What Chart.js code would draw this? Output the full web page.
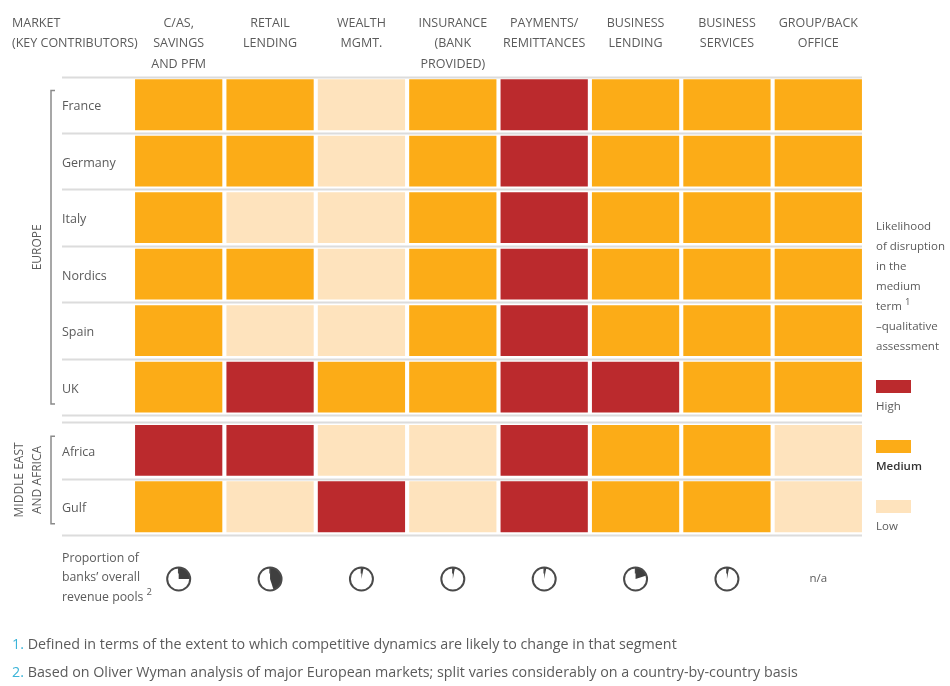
<!DOCTYPE html>
<html>
<head>
<meta charset="utf-8">
<script src="https://cdn.jsdelivr.net/npm/chart.js@4.4.1/dist/chart.umd.min.js"></script>
<style>
  html,body{margin:0;padding:0;background:#fff;}
  #wrap{width:950px;height:686px;position:relative;}
</style>
</head>
<body>
<div id="wrap"><canvas id="c" width="950" height="686"></canvas></div>
<script>
// ---------- DATA ----------
const segments = [
  ["C/AS,", "SAVINGS", "AND PFM"],
  ["RETAIL", "LENDING"],
  ["WEALTH", "MGMT."],
  ["INSURANCE", "(BANK", "PROVIDED)"],
  ["PAYMENTS/", "REMITTANCES"],
  ["BUSINESS", "LENDING"],
  ["BUSINESS", "SERVICES"],
  ["GROUP/BACK", "OFFICE"]
];
const markets = ["France", "Germany", "Italy", "Nordics", "Spain", "UK", "Africa", "Gulf"];
const regions = [["EUROPE"], ["MIDDLE EAST", "AND AFRICA"]];
// likelihood of disruption: 2 = High, 1 = Medium, 0 = Low
const france  = [1, 1, 0, 1, 2, 1, 1, 1];
const germany = [1, 1, 0, 1, 2, 1, 1, 1];
const italy   = [1, 0, 0, 1, 2, 1, 1, 1];
const nordics = [1, 1, 0, 1, 2, 1, 1, 1];
const spain   = [1, 0, 0, 1, 2, 1, 1, 1];
const uk      = [1, 2, 1, 1, 2, 2, 1, 1];
const africa  = [2, 2, 0, 0, 2, 1, 1, 0];
const gulf    = [1, 0, 2, 0, 2, 1, 1, 0];
const levels = [france, germany, italy, nordics, spain, uk, africa, gulf];
const levelNames = ["Low", "Medium", "High"];
// proportion of banks' overall revenue pools (share of pie), null = n/a
const revenueShare = [0.25, 0.45, 0.03, 0.03, 0.03, 0.20, 0.03, null];

// ---------- STYLE ----------
const levelColors = ["#fee3bd", "#fcac17", "#bb2a2d"];
const textCol = "#5b5b5b";
const font = "'Open Sans', 'Noto Sans', sans-serif";
const regionGap = 0.12;
function rowStart(i){ return i + (i >= 6 ? regionGap : 0); }

const datasets = levels.map((row, i) => ({
  label: markets[i],
  data: row.map(v => [rowStart(i) + 0.05, rowStart(i) + 0.95]),
  backgroundColor: row.map(v => levelColors[v]),
  borderWidth: 0,
  grouped: false,
  categoryPercentage: 1,
  barPercentage: 0.955
}));

const decor = {
  id: 'decor',
  beforeDatasetsDraw(chart){
    const ctx = chart.ctx, y = chart.scales.y, x = chart.scales.x;
    ctx.save();
    ctx.strokeStyle = "#dcdcdc";
    ctx.lineWidth = 2;
    const lines = [0,1,2,3,4,5,6, 6+regionGap, 7+regionGap, 8+regionGap];
    lines.forEach(v => {
      const py = Math.round(y.getPixelForValue(v)) + 0.5;
      ctx.beginPath(); ctx.moveTo(62, py); ctx.lineTo(x.right - 2, py); ctx.stroke();
    });
    ctx.restore();
  },
  afterDraw(chart){
    const ctx = chart.ctx, y = chart.scales.y, x = chart.scales.x;
    ctx.save();
    ctx.fillStyle = textCol;
    ctx.textBaseline = "middle";
    // column headers
    ctx.font = "12.5px " + font;
    ctx.textAlign = "center";
    segments.forEach((lines, j) => {
      const cx = x.getPixelForValue(j);
      lines.forEach((t, k) => ctx.fillText(t, cx, 23 + k * 20.5));
    });
    ctx.textAlign = "left";
    ctx.fillText("MARKET", 12, 23);
    ctx.fillText("(KEY CONTRIBUTORS)", 12, 43.5);
    // row labels
    ctx.font = "12.5px " + font;
    markets.forEach((m, i) => {
      ctx.fillText(m, 62, y.getPixelForValue(rowStart(i) + 0.5) + 2);
    });
    // region brackets
    ctx.strokeStyle = "#8a8a8a";
    ctx.lineWidth = 1.5;
    const brackets = [[0.25, 5.8], [6 + regionGap + 0.25, 8 + regionGap - 0.2]];
    brackets.forEach(([a, b]) => {
      const y1 = y.getPixelForValue(a), y2 = y.getPixelForValue(b);
      ctx.beginPath();
      ctx.moveTo(55, y1); ctx.lineTo(51, y1); ctx.lineTo(51, y2); ctx.lineTo(55, y2);
      ctx.stroke();
    });
    ctx.font = "12px " + font;
    ctx.textAlign = "center";
    regions.forEach((parts, k) => {
      const [a, b] = brackets[k];
      const cy = (y.getPixelForValue(a) + y.getPixelForValue(b)) / 2;
      ctx.save();
      ctx.translate(parts.length > 1 ? 29 : 38, cy);
      ctx.rotate(-Math.PI / 2);
      parts.forEach((p, n) => ctx.fillText(p, 0, (n - (parts.length - 1) / 2) * 18));
      ctx.restore();
    });
    // legend
    ctx.textAlign = "left";
    ctx.font = "11.5px " + font;
    const lg = ["Likelihood", "of disruption", "in the", "medium", "term", "\u2013qualitative", "assessment"];
    lg.forEach((t, k) => ctx.fillText(t, 876, 227 + k * 20));
    const tw = ctx.measureText("term").width;
    ctx.font = "9.5px " + font;
    ctx.fillText("1", 876 + tw + 3, 302);
    const legY = [380, 440, 500];
    [2, 1, 0].forEach((lv, k) => {
      ctx.fillStyle = levelColors[lv];
      ctx.fillRect(876, legY[k], 35, 13);
      ctx.fillStyle = lv === 1 ? "#333" : textCol;
      ctx.font = (lv === 1 ? "600 " : "") + "11.5px " + font;
      ctx.fillText(levelNames[lv], 876, legY[k] + 27);
    });
    // revenue pools row
    ctx.fillStyle = textCol;
    ctx.font = "12.3px " + font;
    ["Proportion of", "banks\u2019 overall", "revenue pools"].forEach((t, k) => ctx.fillText(t, 62, 558 + k * 19.5));
    const rw = ctx.measureText("revenue pools").width;
    ctx.font = "9.5px " + font;
    ctx.fillText("2", 62 + rw + 3, 592);
    const pieY = 579, r = 11.5;
    revenueShare.forEach((s, j) => {
      const cx = x.getPixelForValue(j);
      if (s === null) {
        ctx.fillStyle = textCol; ctx.font = "11.5px " + font; ctx.textAlign = "center";
        ctx.fillText("n/a", cx, pieY);
        ctx.textAlign = "left";
        return;
      }
      const start = -Math.PI / 2, end = start + s * 2 * Math.PI;
      ctx.fillStyle = "#3f3f3f";
      ctx.beginPath(); ctx.moveTo(cx, pieY); ctx.arc(cx, pieY, r, start, end); ctx.closePath(); ctx.fill();
      ctx.strokeStyle = "#4a4a4a"; ctx.lineWidth = 2;
      ctx.beginPath(); ctx.arc(cx, pieY, r, 0, Math.PI * 2); ctx.stroke();
      ctx.lineWidth = 1.5;
      ctx.beginPath(); ctx.moveTo(cx, pieY - r); ctx.lineTo(cx, pieY - r + 6); ctx.stroke();
    });
    // footnotes
    ctx.font = "14.3px " + font;
    const notes = [
      ["1.", " Defined in terms of the extent to which competitive dynamics are likely to change in that segment"],
      ["2.", " Based on Oliver Wyman analysis of major European markets; split varies considerably on a country-by-country basis"]
    ];
    notes.forEach(([n, t], k) => {
      const py = 645 + k * 28;
      ctx.fillStyle = "#3cb4d8"; ctx.fillText(n, 12, py);
      const nw = ctx.measureText(n).width;
      ctx.fillStyle = textCol; ctx.fillText(t, 12 + nw, py);
    });
    ctx.restore();
  }
};

new Chart(document.getElementById('c'), {
  type: 'bar',
  data: { labels: segments.map(s => s.join(" ")), datasets },
  options: {
    responsive: false,
    animation: false,
    devicePixelRatio: 1,
    layout: { padding: { left: 133, right: 86, top: 76.5, bottom: 151 } },
    plugins: { legend: { display: false }, tooltip: { enabled: false } },
    scales: {
      x: { display: false, offset: true, grid: { display: false } },
      y: { display: false, min: 0, max: 8 + regionGap, reverse: true }
    }
  },
  plugins: [decor]
});
</script>
</body>
</html>
